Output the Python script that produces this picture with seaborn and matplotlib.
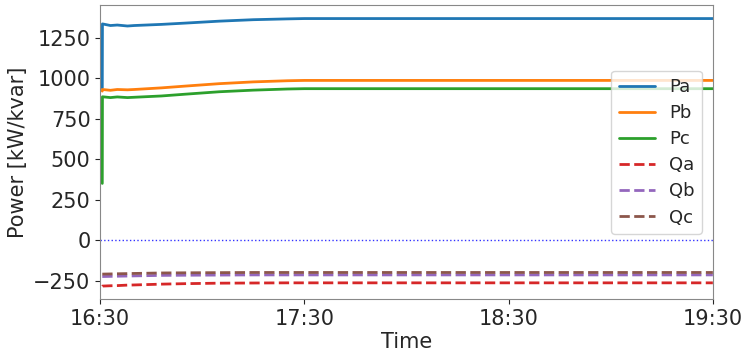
import numpy as np
import pandas as pd
import matplotlib
matplotlib.use("Agg")
import matplotlib.pyplot as plt
import matplotlib.dates as mdates
import seaborn as sns

# Minutes after 16:30 at which each feeder reading was logged
minutes = [0.6, 0.65, 3, 5, 8, 10, 18, 25, 35, 45, 55, 60, 90, 120, 180]

# Active power per phase [kW]
pa = [940, 1335, 1325, 1328, 1322, 1325, 1332, 1340, 1352, 1361, 1366, 1368, 1368, 1368, 1368]
pb = [920, 930, 925, 930, 928, 930, 940, 951, 966, 977, 984, 986, 986, 986, 986]
pc = [350, 885, 880, 884, 880, 882, 890, 901, 916, 926, 933, 935, 935, 935, 935]

# Reactive power per phase [kvar]
qa = [-285, -284, -282, -281, -278, -277, -272, -269, -266, -265, -264, -264, -264, -264, -264]
qb = [-225, -225, -224, -223, -222, -221, -218, -217, -216, -215, -215, -215, -215, -215, -215]
qc = [-210, -210, -209, -208, -207, -206, -203, -202, -201, -200, -200, -200, -200, -200, -200]

series_names = ["Pa", "Pb", "Pc", "Qa", "Qb", "Qc"]
series_values = [pa, pb, pc, qa, qb, qc]
series_colors = ["#1f77b4", "#ff7f0e", "#2ca02c", "#d62728", "#9467bd", "#8c564b"]
series_styles = ["-", "-", "-", "--", "--", "--"]

start = pd.Timestamp("2020-01-01 16:30")
times = start + pd.to_timedelta(minutes, unit="min")
tick_times = start + pd.to_timedelta([0, 60, 120, 180], unit="min")

sns.set_style("ticks")
plt.rcParams["font.family"] = ["DejaVu Sans"]

fig, ax = plt.subplots(figsize=(7.48, 3.52), dpi=100)

for name, vals, col, ls in zip(series_names, series_values, series_colors, series_styles):
    df = pd.DataFrame({"Time": times, "Power": vals})
    sns.lineplot(data=df, x="Time", y="Power", ax=ax, color=col, linestyle=ls,
                 linewidth=2, label=name)

ax.axhline(0, color="blue", linestyle=":", linewidth=1, alpha=0.8)

ax.set_xlim(start, times[-1])
ax.set_ylim(-365, 1450)
ax.set_yticks([-250, 0, 250, 500, 750, 1000, 1250])
ax.set_xticks(tick_times)
ax.xaxis.set_major_formatter(mdates.DateFormatter("%H:%M"))
ax.tick_params(labelsize=15)
ax.set_xlabel("Time", fontsize=15, labelpad=2)
ax.set_ylabel("Power [kW/kvar]", fontsize=15)
for s in ax.spines.values():
    s.set_color("#888888")

ax.legend(loc="center right", fontsize=13, handlelength=2.0, labelspacing=0.45,
          borderaxespad=0.6)

fig.subplots_adjust(left=0.134, right=0.953, top=0.985, bottom=0.15)
fig.savefig("out.png", dpi=100)
